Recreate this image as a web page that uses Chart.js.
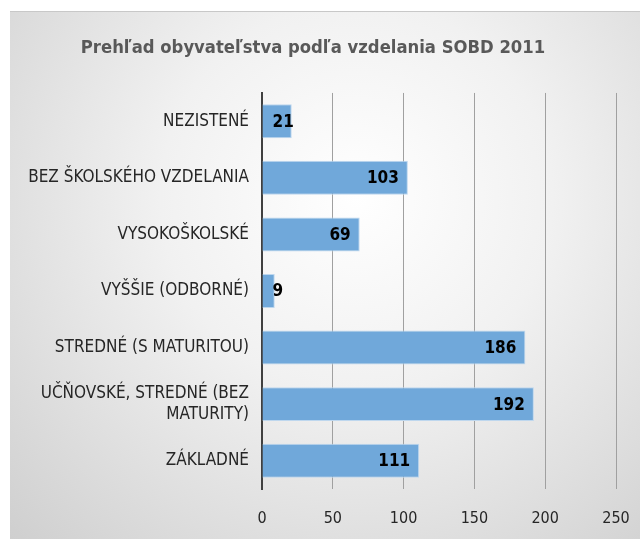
<!DOCTYPE html>
<html>
<head>
<meta charset="utf-8">
<script src="https://cdn.jsdelivr.net/npm/chart.js@4"></script>
<style>
  html, body { margin: 0; padding: 0; background: #fff; overflow: hidden; }
  #wrap {
    position: absolute; left: 10px; top: 11px; width: 630px; height: 527px;
    border-top: 1px solid #c8c8c8;
    background: radial-gradient(ellipse at 55% 35%, #ffffff 0%, #f1f1f1 40%, #cfcfcf 100%);
  }
  #eduChart { display: block; }
</style>
</head>
<body>
<div id="wrap"><canvas id="eduChart" width="630" height="527"></canvas></div>
<script>
const categories = [
    'NEZISTENÉ',
    'BEZ ŠKOLSKÉHO VZDELANIA',
    'VYSOKOŠKOLSKÉ',
    'VYŠŠIE (ODBORNÉ)',
    'STREDNÉ (S MATURITOU)',
    ['UČŇOVSKÉ, STREDNÉ (BEZ', 'MATURITY)'],
    'ZÁKLADNÉ'
];
const residents = [21, 103, 69, 9, 186, 192, 111];
const xTicks = [0, 50, 100, 150, 200, 250];

const FONT = "'Liberation Sans Narrow', 'Arial Narrow', 'DejaVu Sans Condensed', sans-serif";

// value labels inside the bar end
const barLabels = {
    id: 'barLabels',
    afterDatasetsDraw(chart) {
        const ctx = chart.ctx;
        const meta = chart.getDatasetMeta(0);
        ctx.save();
        ctx.font = 'bold 17px ' + FONT;
        ctx.fillStyle = '#000';
        ctx.textAlign = 'right';
        ctx.textBaseline = 'middle';
        meta.data.forEach((bar, i) => {
            const txt = String(residents[i]);
            const w = ctx.measureText(txt).width;
            const x = Math.max(bar.x - 9, bar.base + 10 + w);
            ctx.fillText(txt, x, bar.y + 1);
        });
        ctx.restore();
    }
};

new Chart(document.getElementById('eduChart'), {
    type: 'bar',
    data: {
        labels: categories,
        datasets: [{
            data: residents,
            backgroundColor: 'rgba(112, 168, 218, 1)',
            borderColor: 'rgba(190, 215, 238, 1)',
            borderWidth: 1,
            barPercentage: 0.6,
            categoryPercentage: 1
        }]
    },
    options: {
        indexAxis: 'y',
        responsive: false,
        maintainAspectRatio: false,
        animation: false,
        layout: { padding: { left: 0, right: 24, top: 0, bottom: 0 } },
        plugins: {
            legend: { display: false },
            tooltip: { enabled: false },
            title: {
                display: true,
                text: 'Prehľad obyvateľstva podľa vzdelania SOBD 2011',
                color: '#595959',
                font: { family: FONT, size: 18.3, weight: 'bold' },
                padding: { top: 25, bottom: 34 }
            }
        },
        scales: {
            x: {
                min: 0,
                max: 250,
                afterBuildTicks(scale) {
                    scale.ticks = xTicks.map(v => ({ value: v }));
                },
                afterFit(scale) {
                    scale.height = 50;
                    scale.paddingRight = 8;
                },
                grid: { color: '#a0a0a0', lineWidth: 1, drawTicks: false },
                border: { display: false },
                ticks: {
                    color: '#262626',
                    padding: 20,
                    font: { family: FONT, size: 16 }
                }
            },
            y: {
                afterFit(scale) { scale.width = 252; },
                grid: { display: false, drawTicks: false },
                border: { display: true, color: '#404040', width: 2 },
                ticks: {
                    color: '#262626',
                    padding: 13,
                    autoSkip: false,
                    font: { family: FONT, size: 17 }
                }
            }
        }
    },
    plugins: [barLabels]
});
</script>
</body>
</html>
